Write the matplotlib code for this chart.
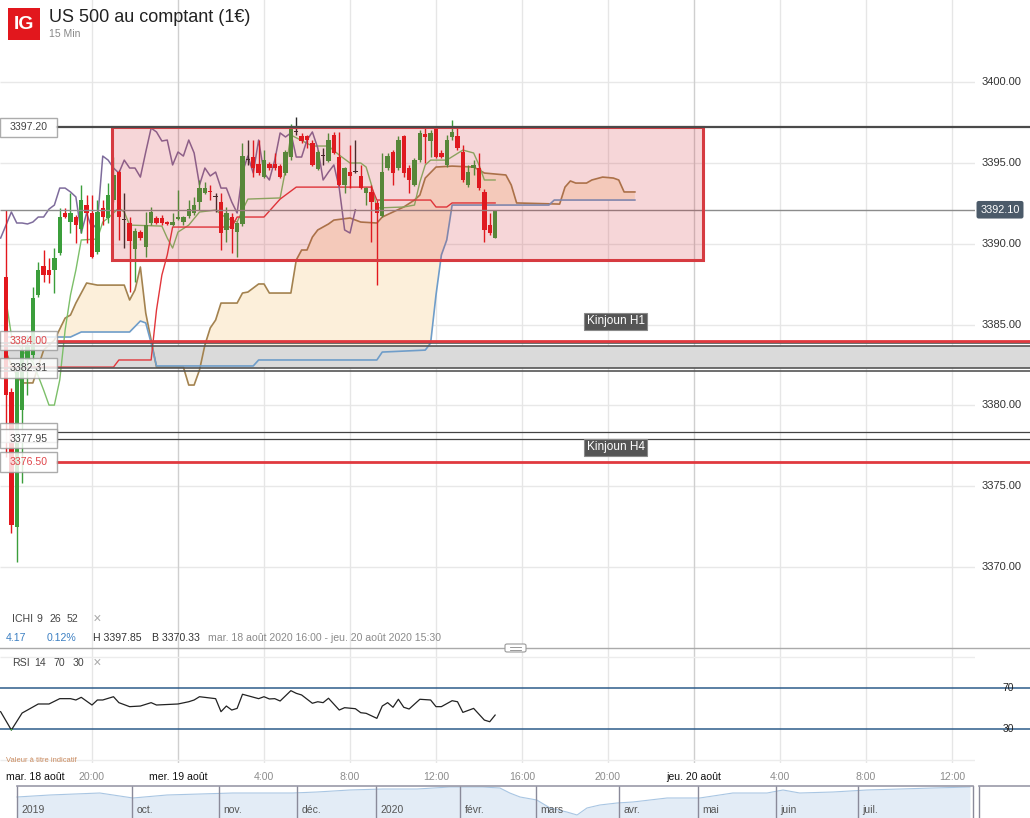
import matplotlib
matplotlib.use("Agg")
import matplotlib.pyplot as plt
import matplotlib.transforms as mtransforms
from matplotlib.patches import Rectangle, FancyBboxPatch
import numpy as np

plt.rcParams['font.family'] = ['Liberation Sans', 'DejaVu Sans']

# bougies 15 min, index 0 = mar. 18 août 16:00
opens = [3387.94, 3380.83, 3372.48, 3379.71, 3382.81, 3383.11, 3386.83, 3388.62, 3388.37, 3388.37,
         3389.42, 3391.90, 3391.34, 3391.65, 3390.91, 3392.39, 3391.90, 3389.49, 3392.21, 3391.59,
         3392.70, 3394.43, 3391.46, 3391.28, 3389.67, 3390.72, 3389.80, 3391.28, 3391.59, 3391.59,
         3391.34, 3391.15, 3391.53, 3391.34, 3391.71, 3391.90, 3392.58, 3393.13, 3393.26, 3392.89,
         3392.58, 3390.85, 3391.65, 3390.72, 3391.22, 3395.17, 3395.36, 3394.93, 3394.12, 3394.93,
         3394.93, 3394.80, 3394.37, 3395.36, 3396.91, 3396.66, 3396.66, 3396.23, 3394.62, 3395.42,
         3395.11, 3396.72, 3395.36, 3393.63, 3394.43, 3394.43, 3394.19, 3393.13, 3393.20, 3392.52,
         3391.71, 3394.68, 3395.67, 3394.68, 3396.66, 3394.68, 3393.63, 3395.17, 3396.78, 3396.35,
         3397.22, 3395.61, 3394.87, 3396.60, 3396.66, 3395.67, 3393.63, 3394.68, 3394.68, 3393.20,
         3391.15, 3390.35]
highs = [3392.08, 3381.08, 3382.19, 3384.04, 3384.35, 3387.32, 3388.87, 3389.61, 3389.11, 3389.73,
         3392.21, 3392.21, 3393.13, 3391.77, 3393.63, 3393.01, 3393.01, 3392.70, 3392.70, 3393.75,
         3395.36, 3394.56, 3393.13, 3391.65, 3390.97, 3390.85, 3391.96, 3392.27, 3391.71, 3391.77,
         3391.40, 3391.90, 3393.32, 3391.71, 3392.70, 3392.89, 3393.94, 3393.81, 3393.63, 3393.13,
         3393.13, 3392.27, 3391.90, 3391.34, 3396.23, 3396.41, 3396.41, 3396.41, 3395.79, 3395.05,
         3395.61, 3394.93, 3395.79, 3397.40, 3397.85, 3396.85, 3396.72, 3396.41, 3395.79, 3395.92,
         3396.85, 3396.91, 3396.91, 3394.74, 3396.10, 3396.41, 3394.87, 3393.50, 3393.63, 3392.70,
         3395.61, 3395.61, 3395.79, 3396.66, 3396.72, 3394.87, 3395.30, 3397.03, 3397.15, 3397.03,
         3397.22, 3395.79, 3396.72, 3397.65, 3397.15, 3396.10, 3394.87, 3395.17, 3395.61, 3393.38,
         3391.90, 3392.10]
lows = [3376.81, 3372.11, 3370.33, 3375.20, 3380.64, 3382.81, 3386.70, 3387.63, 3387.57, 3386.95,
        3389.30, 3391.59, 3390.66, 3390.04, 3390.66, 3390.04, 3389.11, 3389.36, 3391.15, 3391.28,
        3392.58, 3390.23, 3389.73, 3387.01, 3387.63, 3390.23, 3389.18, 3391.15, 3391.22, 3391.15,
        3391.15, 3391.09, 3391.46, 3391.15, 3391.59, 3391.77, 3392.08, 3393.07, 3392.70, 3391.96,
        3389.61, 3390.10, 3389.42, 3389.18, 3391.09, 3394.87, 3394.12, 3394.25, 3394.06, 3394.56,
        3394.56, 3394.06, 3394.25, 3395.17, 3396.72, 3396.23, 3395.92, 3394.80, 3394.56, 3394.87,
        3395.05, 3395.55, 3393.57, 3393.13, 3393.44, 3394.37, 3393.38, 3392.39, 3390.10, 3387.44,
        3391.65, 3394.56, 3393.63, 3394.56, 3394.12, 3393.13, 3393.57, 3395.05, 3394.99, 3395.36,
        3395.30, 3395.30, 3394.74, 3396.41, 3395.79, 3393.81, 3393.50, 3394.25, 3393.32, 3390.10,
        3390.54, 3390.35]
closes = [3380.64, 3372.61, 3382.07, 3383.42, 3383.74, 3386.64, 3388.37, 3388.06, 3388.06, 3389.11,
          3391.65, 3391.65, 3391.90, 3391.15, 3392.70, 3391.90, 3389.18, 3391.96, 3391.65, 3393.01,
          3394.25, 3391.65, 3391.46, 3390.17, 3390.78, 3390.35, 3391.15, 3391.96, 3391.28, 3391.28,
          3391.22, 3391.34, 3391.65, 3391.65, 3392.14, 3392.39, 3393.44, 3393.44, 3393.20, 3392.89,
          3390.66, 3391.90, 3390.91, 3391.28, 3395.42, 3395.17, 3394.68, 3394.37, 3395.17, 3394.68,
          3394.68, 3394.12, 3395.67, 3397.15, 3396.91, 3396.35, 3396.41, 3394.87, 3395.67, 3395.42,
          3396.41, 3395.61, 3393.63, 3394.68, 3394.19, 3394.43, 3393.44, 3393.44, 3392.58, 3391.90,
          3394.43, 3395.42, 3394.37, 3396.41, 3394.37, 3393.94, 3395.17, 3396.85, 3396.60, 3396.85,
          3395.36, 3395.36, 3396.41, 3396.91, 3395.92, 3393.94, 3394.43, 3394.87, 3393.44, 3390.85,
          3390.66, 3392.10]

# ichimoku 9 26 52
tenkan_idx = [0, 1, 3, 5, 7, 8, 9, 10, 11, 12, 13, 14, 17, 18, 19, 21, 22, 23, 29, 30, 31, 32, 34, 36,
              39, 41, 43, 44, 45, 51, 52, 53, 57, 60, 62, 64, 66, 67, 68, 69, 74, 76, 77, 78, 79, 82,
              85, 87, 88, 89, 91]
tenkan_val = [3386.52, 3384.35, 3383.42, 3382.68, 3380.95, 3380.02, 3380.02, 3381.57, 3384.66, 3386.83,
              3388.37, 3390.23, 3390.29, 3391.34, 3391.59, 3392.21, 3391.96, 3391.15, 3391.09, 3390.35,
              3389.73, 3390.72, 3391.15, 3391.96, 3392.08, 3391.59, 3391.34, 3392.08, 3392.76, 3392.83,
              3394.56, 3396.72, 3396.04, 3396.04, 3395.48, 3394.99, 3394.99, 3394.74, 3393.63, 3392.21,
              3392.27, 3392.39, 3393.81, 3394.87, 3395.17, 3395.17, 3395.79, 3395.61, 3394.87, 3393.94,
              3393.94]
kijun_idx = [0, 20, 21, 27, 28, 29, 30, 31, 42, 43, 48, 51, 54, 68, 69, 79, 80, 82, 83, 91]
kijun_val = [3382.37, 3382.37, 3382.81, 3382.81, 3385.90, 3388.06, 3389.30, 3391.03, 3391.03, 3391.65,
             3391.65, 3392.76, 3393.50, 3393.50, 3392.70, 3392.70, 3392.27, 3392.27, 3392.52, 3392.52]
span_a_idx = [0, 1, 2, 3, 5, 7, 9, 11, 12, 13, 15, 17, 22, 23, 24, 25, 26, 27, 28, 33, 34, 35, 36, 37,
              38, 39, 40, 43, 44, 45, 47, 48, 49, 53, 54, 55, 56, 57, 58, 60, 61, 64, 66, 69, 70, 74,
              76, 77, 78, 80, 83, 87, 88, 89, 91, 93, 94, 95, 103, 104, 105, 106, 108, 109, 111, 113,
              114, 115, 117]
span_a_val = [3383.30, 3382.50, 3381.88, 3381.39, 3381.39, 3383.42, 3384.04, 3385.40, 3385.59, 3386.33,
              3387.57, 3387.44, 3387.44, 3386.52, 3387.14, 3388.56, 3385.71, 3384.04, 3382.37, 3382.37,
              3381.26, 3381.26, 3382.19, 3383.73, 3384.79, 3385.28, 3386.33, 3386.33, 3386.95, 3387.01,
              3387.51, 3387.51, 3386.95, 3386.95, 3388.99, 3389.61, 3389.61, 3390.41, 3390.85, 3391.22,
              3391.46, 3391.59, 3391.34, 3391.28, 3391.65, 3392.27, 3392.70, 3393.01, 3394.06, 3394.74,
              3394.80, 3394.74, 3394.56, 3394.37, 3394.31, 3394.25, 3393.63, 3392.52, 3392.45, 3393.50,
              3393.88, 3393.75, 3393.75, 3393.94, 3394.12, 3394.06, 3393.94, 3393.20, 3393.20]
span_b_idx = [0, 12, 14, 23, 25, 26, 27, 28, 46, 47, 69, 70, 78, 79, 80, 81, 82, 83, 101, 102, 117]
span_b_val = [3384.23, 3384.23, 3384.54, 3384.54, 3385.22, 3385.10, 3383.86, 3382.44, 3382.44, 3382.81,
              3382.81, 3383.30, 3383.42, 3383.86, 3386.83, 3389.30, 3390.23, 3392.39, 3392.39, 3392.70,
              3392.70]
chikou_lag = 26

# RSI 14
rsi_idx = [-1, 1, 3, 4, 6, 8, 10, 12, 13, 14, 16, 17, 18, 20, 21, 23, 25, 27, 28, 32, 34, 35, 36, 39,
           40, 41, 42, 43, 44, 47, 48, 49, 50, 51, 53, 54, 55, 57, 58, 59, 60, 62, 63, 65, 66, 67,
           69, 70, 71, 72, 73, 74, 75, 77, 79, 80, 81, 83, 84, 85, 87, 89, 90, 91]
rsi_val = [46.9, 29.0, 45.6, 48.5, 54.4, 54.4, 59.6, 59.6, 58.3, 60.9, 53.4, 58.3, 58.3, 61.5, 55.7,
           51.8, 52.4, 55.7, 53.4, 54.4, 56.6, 58.3, 61.5, 59.6, 46.9, 52.4, 48.5, 50.1, 63.9, 59.6,
           61.5, 59.3, 59.6, 57.3, 67.4, 64.8, 63.2, 55.1, 56.6, 55.7, 60.0, 48.5, 50.8, 49.8, 45.9,
           45.3, 40.4, 52.4, 55.7, 51.2, 59.0, 51.2, 49.5, 59.0, 58.3, 51.8, 51.8, 57.6, 56.6, 46.2,
           50.1, 38.7, 37.1, 43.6]

# niveaux tracés
level_top = 3397.20
last_price = 3392.10
kinjoun_h1 = 3384.00
band_top = [3383.86, 3383.70]
band_bottom = [3382.31, 3382.13]
level_lines_dark = [3378.34, 3377.95]
kinjoun_h4 = 3376.50
zone_start, zone_end = 19.7, 129.7
zone_low, zone_high = 3389.0, 3397.2

price_ticks = [3370, 3375, 3380, 3385, 3390, 3395, 3400]
hour_idx = [16, 48, 64, 80, 96, 112, 144, 160, 176]
hour_lbl = ['20:00', '4:00', '8:00', '12:00', '16:00', '20:00', '4:00', '8:00', '12:00']
day_idx = [32, 128]
day_lbl = ['mer. 19 août', 'jeu. 20 août']

# navigateur (jours de bourse depuis fin août 2019)
nav_day = [0, 8.7, 21.8, 30.5, 39.5, 48.2, 56.8, 65.8, 72.6, 78.9, 87.6, 96.3, 105.3, 113.9, 122.6,
           127.1, 129.7, 132.4, 136.8, 140.3, 144.7, 147.4, 150, 153.4, 157.9, 162.1, 171.1, 179.7,
           188.4, 197.4, 201.6, 206, 214.7, 223.7, 232.4, 241.1, 250.8]
nav_val = [2997, 3078, 3158, 2957, 3078, 3118, 3158, 3158, 3158, 3198, 3279, 3319, 3319, 3400, 3400,
           3360, 3158, 2997, 2876, 2554, 2393, 2272, 2554, 2675, 2755, 2796, 2957, 2957, 3158, 3158,
           3279, 3158, 3198, 3279, 3319, 3360, 3400]
month_day = [0, 30.3, 53.2, 73.7, 94.5, 116.6, 136.6, 158.4, 179.2, 199.7, 221.3]
month_lbl = ['2019', 'oct.', 'nov.', 'déc.', '2020', 'févr.', 'mars', 'avr.', 'mai', 'juin', 'juil.']

W, H = 1030, 818
def fx(px):
    return px / W
def fy(py):
    return 1 - py / H

fig = plt.figure(figsize=(W / 100, H / 100), dpi=100)
fig.patch.set_facecolor('white')

ax = fig.add_axes([0, fy(648), fx(975), 648 / H])
ax_rsi = fig.add_axes([0, fy(763), fx(975), (763 - 648) / H])
ax_nav = fig.add_axes([0, fy(818), 1, (818 - 786) / H])

x_left, x_right, x_far = -1.116, 180.28, 190.5
for a in (ax, ax_rsi):
    a.set_xlim(x_left, x_right)
    a.axis('off')
ax.set_ylim(3365.0, 3405.07)
ax_rsi.set_ylim(-3.17, 109.02)

# grille
ax.hlines(price_ticks, x_left, x_right, color='#e8e8e8', lw=1, zorder=0)
for a in (ax, ax_rsi):
    for i in hour_idx:
        a.axvline(i, color='#e6e6e6', lw=1, zorder=0)
    for i in day_idx:
        a.axvline(i, color='#cfcfcf', lw=1, zorder=0)

tr = mtransforms.blended_transform_factory(ax.transAxes, ax.transData)
for p in price_ticks:
    ax.text(982 / 975, p, '%.2f' % p, transform=tr, ha='left', va='center', fontsize=8, color='#333')

# nuage
xs = np.union1d(span_a_idx, span_b_idx)
sa = np.interp(xs, span_a_idx, span_a_val)
sb = np.interp(xs, span_b_idx, span_b_val)
ax.fill_between(xs, sa, sb, where=sa >= sb, interpolate=True, color='#fcefda', lw=0, zorder=1)
ax.fill_between(xs, sa, sb, where=sa < sb, interpolate=True, color='#fdf8ee', lw=0, zorder=1)
ax.plot(span_a_idx, span_a_val, color='#a3824f', lw=1.2, zorder=2)
ax.plot(span_b_idx, span_b_val, color='#6f9dc9', lw=1.2, zorder=2)
ax.plot(tenkan_idx, tenkan_val, color='#7cbf69', lw=1.0, zorder=2)
ax.plot(kijun_idx, kijun_val, color='#e2363b', lw=1.0, zorder=2)
chikou_x = np.arange(chikou_lag - 1, len(closes)) - chikou_lag
ax.plot(chikou_x, closes[chikou_lag - 1:], color='#7e6c9c', lw=1.1, zorder=2)

# bougies
idx = np.arange(len(closes))
o = np.array(opens)
c = np.array(closes)
cols = np.where(np.abs(c - o) < 0.005, '#2a2a2a', np.where(c > o, '#3b9e3b', '#e3171d'))
ax.vlines(idx, lows, highs, colors=cols, lw=1, zorder=3)
ax.bar(idx, np.maximum(np.abs(c - o), 0.07), bottom=np.minimum(o, c), width=0.8,
       color=cols, lw=0, zorder=3)

# zone de consolidation
ax.add_patch(Rectangle((zone_start, zone_low), zone_end - zone_start, zone_high - zone_low,
                       fc='#d22832', alpha=0.19, lw=0, zorder=4))
ax.add_patch(Rectangle((zone_start, zone_low), zone_end - zone_start, zone_high - zone_low,
                       fill=False, ec='#d63b41', lw=2.2, zorder=5))

# niveaux horizontaux
box_edge = 9.5
ax.hlines(last_price, x_left, x_right, color='#8c8c8c', lw=1, zorder=3)
ax.add_patch(Rectangle((x_left, band_bottom[0]), x_far - x_left, band_top[1] - band_bottom[0],
                       fc='#dadada', lw=0, zorder=1.5, clip_on=False))
for lv in band_top + band_bottom:
    ax.plot([x_left, x_far], [lv, lv], color='#555', lw=1.2, zorder=6, clip_on=False)
ax.plot([box_edge, x_far], [level_top] * 2, color='#4a4a4a', lw=1.6, zorder=6, clip_on=False)
ax.plot([box_edge, x_far], [kinjoun_h1] * 2, color='#e0393f', lw=2.0, zorder=6, clip_on=False)
ax.plot([box_edge, x_far], [kinjoun_h4] * 2, color='#e0393f', lw=2.0, zorder=6, clip_on=False)
for lv in level_lines_dark:
    ax.plot([box_edge, x_far], [lv, lv], color='#444', lw=0.9, zorder=6, clip_on=False)

# étiquettes de niveaux (celle de 3378.34 est cachée derrière 3377.95)
labels_left = [(level_top, '3397.20', '#444'), (kinjoun_h1, '3384.00', '#e0464b'),
               (band_bottom[0], '3382.31', '#444'), (level_lines_dark[0], '', '#bbb'),
               (level_lines_dark[1], '3377.95', '#444'), (kinjoun_h4, '3376.50', '#e0464b')]
for k, (lv, txt, col) in enumerate(labels_left):
    ax.add_patch(Rectangle((x_left + 0.05, lv - 0.6), box_edge - x_left - 0.1, 1.2,
                           fc='white', ec='#9a9a9a', lw=1, alpha=0.82, zorder=7 + k * 0.1))
    if txt:
        ax.text((x_left + box_edge) / 2, lv, txt, ha='center', va='center', fontsize=7.6,
                color=col, zorder=7.05 + k * 0.1)

ax.text(1000 / 975, last_price, '3392.10', transform=tr, ha='center', va='center', fontsize=7.8,
        color='white', zorder=8,
        bbox=dict(boxstyle='round,pad=0.35,rounding_size=0.2', fc='#4b5a69', ec='none'))

for lv, txt in [(3385.2, 'Kinjoun H1'), (3377.4, 'Kinjoun H4')]:
    ax.text(113.4, lv, txt, ha='center', va='center', fontsize=8.5, color='white', zorder=9,
            bbox=dict(boxstyle='square,pad=0.22', fc='#555555', ec='#8a8a8a', lw=0.8))

# RSI
ax_rsi.hlines([0, 100], x_left, x_right, color='#ececec', lw=1, zorder=0)
for lv in (70, 30):
    ax_rsi.plot([x_left, x_far], [lv, lv], color='#2e5c8a', lw=1.1, clip_on=False, zorder=1)
tr_r = mtransforms.blended_transform_factory(ax_rsi.transAxes, ax_rsi.transData)
for lv in (70, 30):
    ax_rsi.text(1008 / 975, lv, str(lv), transform=tr_r, ha='center', va='center',
                fontsize=7.5, color='#222', zorder=3)
ax_rsi.plot(rsi_idx, rsi_val, color='#222', lw=0.9, zorder=2)
low_line, = ax_rsi.plot(rsi_idx, rsi_val, color='#3aa83a', lw=0.9, zorder=2.5)
clip = Rectangle((x_left, -10), x_right - x_left, 40, transform=ax_rsi.transData)
low_line.set_clip_path(clip)

# axe du temps
tr_t = mtransforms.blended_transform_factory(ax_rsi.transData, ax_rsi.transAxes)
ty = -14 / 115
ax_rsi.text(0, ty, 'mar. 18 août', transform=tr_t, ha='left', va='center', fontsize=7.6,
            color='#111', clip_on=False)
for i, t in zip(hour_idx, hour_lbl):
    ax_rsi.text(i, ty, t, transform=tr_t, ha='center', va='center', fontsize=7.6,
                color='#8c8c8c', clip_on=False)
for i, t in zip(day_idx, day_lbl):
    ax_rsi.text(i, ty, t, transform=tr_t, ha='center', va='center', fontsize=7.6,
                color='#111', clip_on=False)

# navigateur
ax_nav.set_xlim(-4.47, 266.6)
ax_nav.set_ylim(2151, 3440)
ax_nav.axis('off')
ax_nav.fill_between(nav_day, nav_val, 2151, color='#e3ecf6', lw=0, zorder=1)
ax_nav.plot(nav_day, nav_val, color='#a9c6e3', lw=0.8, zorder=2)
tr_n = mtransforms.blended_transform_factory(ax_nav.transData, ax_nav.transAxes)
for d, t in zip(month_day, month_lbl):
    ax_nav.axvline(d, color='#8a8a9a', lw=1, zorder=3)
    ax_nav.text(d + 1.2, 0.26, t, transform=tr_n, ha='left', va='center', fontsize=7.5,
                color='#555', zorder=4)
for d in (251.6, 253.2):
    ax_nav.axvline(d, color='#8a8a9a', lw=1, zorder=3)
ax_nav.plot([0, 251.6], [3440, 3440], color='#9a9aa8', lw=1.2, zorder=3, clip_on=False)
ax_nav.plot([253.2, 266.6], [3440, 3440], color='#9a9aa8', lw=1.2, zorder=3, clip_on=False)

# en-tête
fig.patches.append(Rectangle((fx(8), fy(40)), 32 / W, 32 / H, fc='#e2171d', ec='none',
                             transform=fig.transFigure, figure=fig, zorder=10))
fig.text(fx(24), fy(24.5), 'IG', ha='center', va='center', fontsize=14, fontweight='bold',
         color='white', zorder=11)
fig.text(fx(49), fy(17), 'US 500 au comptant (1€)', ha='left', va='center', fontsize=13, color='#222')
fig.text(fx(49), fy(34), '15 Min', ha='left', va='center', fontsize=7.5, color='#888')

# légendes des indicateurs
row1 = [(12, 'ICHI', '#444'), (37, '9', '#444'), (49, '26', '#444'), (67, '52', '#444'), (93, '✕', '#aaa')]
for px, t, col in row1:
    fig.text(fx(px), fy(619), t, ha='left', va='center', fontsize=7.6, color=col)
row2 = [(6, '4.17', '#3b7fc2'), (47, '0.12%', '#3b7fc2'), (93, 'H 3397.85', '#333'),
        (152, 'B 3370.33', '#333'), (208, 'mar. 18 août 2020 16:00 - jeu. 20 août 2020 15:30', '#8a8a8a')]
for px, t, col in row2:
    fig.text(fx(px), fy(638), t, ha='left', va='center', fontsize=7.6, color=col)
row3 = [(12, 'RSI', '#444'), (34, '14', '#444'), (53, '70', '#444'), (73, '30', '#444'), (93, '✕', '#aaa')]
for px, t, col in row3:
    fig.text(fx(px), fy(663), t, ha='left', va='center', fontsize=7.6, color=col)
fig.text(fx(6), fy(761), 'Valeur à titre indicatif', ha='left', va='center', fontsize=5.4, color='#c98a5e')

# séparateur
fig.lines.append(plt.Line2D([0, 1], [fy(648), fy(648)], color='#aaaaaa', lw=1,
                            transform=fig.transFigure, figure=fig))
fig.patches.append(FancyBboxPatch((fx(505), fy(652)), 21 / W, 8 / H,
                                  boxstyle='round,pad=0,rounding_size=0.002', fc='white', ec='#999',
                                  lw=0.8, transform=fig.transFigure, figure=fig, zorder=10))
for yy in (647, 649.5):
    fig.lines.append(plt.Line2D([fx(510), fx(521)], [fy(yy), fy(yy)], color='#888', lw=0.6,
                                transform=fig.transFigure, figure=fig, zorder=11))

fig.savefig('out.png', dpi=100, facecolor='white')
